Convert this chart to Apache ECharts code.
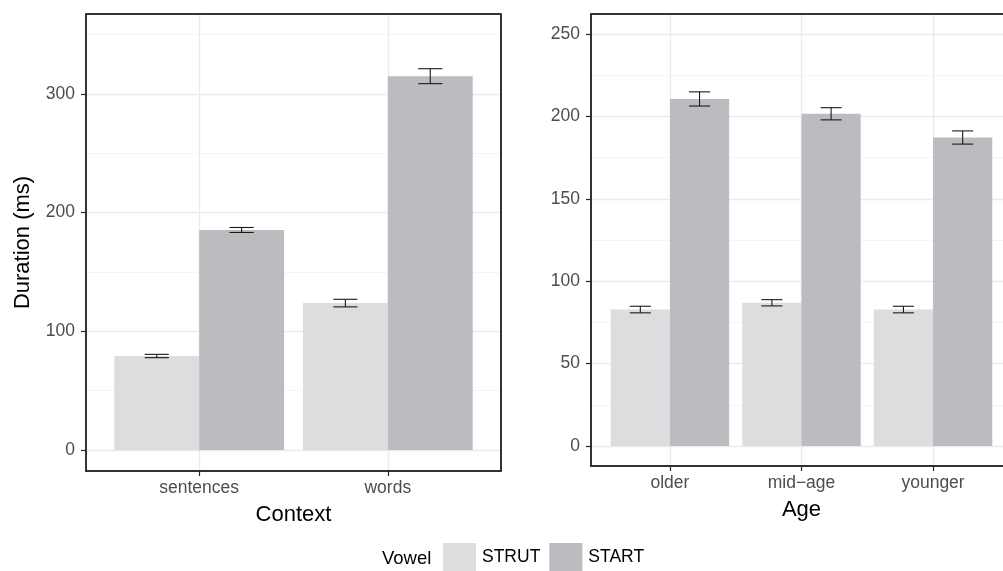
<!DOCTYPE html>
<html>
<head>
<meta charset="utf-8">
<script src="https://cdn.jsdelivr.net/npm/echarts@6/dist/echarts.min.js"></script>
<style>
html,body{margin:0;padding:0;background:#fff;}
#c{width:1003px;height:571px;}
</style>
</head>
<body>
<div id="c"></div>
<script>
// ---- data ----
const contexts = ['sentences', 'words'];
const contextStrut = [79.2, 123.8];
const contextStrutSE = [1.4, 3.2];
const contextStart = [185.4, 315.0];
const contextStartSE = [2.1, 6.3];

const ages = ['older', 'mid\u2212age', 'younger'];
const ageStrut = [82.8, 86.9, 82.8];
const ageStrutSE = [2.0, 1.9, 2.0];
const ageStart = [210.6, 201.6, 187.2];
const ageStartSE = [4.3, 3.7, 4.0];

const leftYTicks = [0, 100, 200, 300];
const leftYMinor = [50, 150, 250, 350];
const rightYTicks = [0, 50, 100, 150, 200, 250];
const rightYMinor = [25, 75, 125, 175, 225];

const vowels = ['STRUT', 'START'];

// ---- styles ----
const FONT = 'Liberation Sans, Arial, Helvetica, sans-serif';
const COL = {STRUT: '#dcdddf', START: '#bbbcbf'};
const HALF = 0.225; // half bar width (dodged, total 0.9)
const AXC = '#262626';

const chart = echarts.init(document.getElementById('c'), null, {renderer: 'canvas'});

function barSeries(name, vals, offset, xi, yi) {
  return {
    type: 'custom', name: name, xAxisIndex: xi, yAxisIndex: yi,
    itemStyle: {color: COL[name]},
    data: vals.map((v, i) => [i, v]),
    renderItem: function (params, api) {
      const x = api.value(0) + offset;
      const a = api.coord([x - HALF, api.value(1)]);
      const b = api.coord([x + HALF, 0]);
      return {type: 'rect', shape: {x: a[0], y: a[1], width: b[0] - a[0], height: b[1] - a[1]},
              style: {fill: COL[name]}};
    },
    z: 3
  };
}
function errSeries(name, vals, ses, offset, cap, xi, yi) {
  return {
    type: 'custom', name: name + ' se', xAxisIndex: xi, yAxisIndex: yi,
    data: vals.map((v, i) => [i, v, ses[i]]),
    renderItem: function (params, api) {
      const x = api.value(0) + offset;
      const v = api.value(1), s = api.value(2);
      const top = api.coord([x, v + s]);
      const bot = api.coord([x, v - s]);
      const l = api.coord([x - cap, v])[0];
      const r = api.coord([x + cap, v])[0];
      const st = {stroke: '#1a1a1a', lineWidth: 1.1};
      return {type: 'group', children: [
        {type: 'line', shape: {x1: top[0], y1: top[1], x2: bot[0], y2: bot[1]}, style: st},
        {type: 'line', shape: {x1: l, y1: top[1], x2: r, y2: top[1]}, style: st},
        {type: 'line', shape: {x1: l, y1: bot[1], x2: r, y2: bot[1]}, style: st}
      ]};
    },
    z: 4
  };
}

function xAxis(gi, cats) {
  const idx = cats.map((c, i) => i);
  return {
    type: 'value', gridIndex: gi, min: -0.6, max: cats.length - 0.4, position: 'bottom',
    axisLine: {show: true, onZero: false, lineStyle: {color: AXC, width: 1.5}},
    axisTick: {show: true, length: 5, customValues: idx, lineStyle: {color: AXC, width: 1.2}},
    axisLabel: {customValues: idx, formatter: v => cats[Math.round(v)], color: '#4d4d4d',
                fontSize: 17.5, fontFamily: FONT, margin: 8},
    splitLine: {show: true, lineStyle: {color: '#ebebeb', width: 1.4}},
    name: gi === 0 ? 'Context' : 'Age', nameLocation: 'middle', nameGap: 33,
    nameTextStyle: {fontSize: 22, fontFamily: FONT, color: '#000'},
    z: 2
  };
}
function yAxisMajor(gi, ticks, mn, mx, title) {
  return {
    type: 'value', gridIndex: gi, min: mn, max: mx, position: 'left',
    axisLine: {show: true, onZero: false, lineStyle: {color: AXC, width: 1.5}},
    axisTick: {show: true, length: 5, customValues: ticks, lineStyle: {color: AXC, width: 1.2}},
    axisLabel: {customValues: ticks, color: '#4d4d4d', fontSize: 17.5, fontFamily: FONT, margin: 11},
    splitLine: {show: true, lineStyle: {color: '#ebebeb', width: 1.4}},
    name: title, nameLocation: 'middle', nameGap: 52,
    nameTextStyle: {fontSize: 22, fontFamily: FONT, color: '#000'},
    z: 2
  };
}
function yAxisMinor(gi, ticks, mn, mx) {
  return {
    type: 'value', gridIndex: gi, min: mn, max: mx, position: 'left',
    axisLine: {show: false, onZero: false},
    axisTick: {show: false, customValues: ticks},
    axisLabel: {show: false, customValues: ticks},
    splitLine: {show: true, lineStyle: {color: '#f4f4f4', width: 0.9}},
    z: 0
  };
}

const option = {
  backgroundColor: '#ffffff',
  animation: false,
  textStyle: {fontFamily: FONT},
  grid: [
    {left: 86, top: 14, width: 415, height: 457, show: true, borderColor: AXC, borderWidth: 1.5,
     backgroundColor: 'transparent', outerBoundsMode: 'none', containLabel: false, z: 5},
    {left: 591, top: 14, width: 421, height: 452, show: true, borderColor: AXC, borderWidth: 1.5,
     backgroundColor: 'transparent', outerBoundsMode: 'none', containLabel: false, z: 5}
  ],
  xAxis: [xAxis(0, contexts), xAxis(1, ages)],
  yAxis: [
    yAxisMajor(0, leftYTicks, -17.7, 367.4, 'Duration (ms)'),
    yAxisMinor(0, leftYMinor, -17.7, 367.4),
    yAxisMajor(1, rightYTicks, -12.15, 262.15, ''),
    yAxisMinor(1, rightYMinor, -12.15, 262.15)
  ],
  legend: {
    left: 443, top: 543, padding: 0, itemGap: 9, itemWidth: 33, itemHeight: 28,
    data: vowels.map(v => ({name: v, icon: 'rect', itemStyle: {color: COL[v]}})),
    textStyle: {fontSize: 17.5, fontFamily: FONT, color: '#000', padding: [0, 0, 0, 1]},
    selectedMode: false
  },
  graphic: [
    {type: 'text', left: 382, top: 549, style: {text: 'Vowel', font: '18.5px ' + FONT, fill: '#000'}},
    {type: 'line', shape: {x1: 86, y1: 14, x2: 501, y2: 14}, style: {stroke: AXC, lineWidth: 1.5}, z: 10},
    {type: 'line', shape: {x1: 501, y1: 14, x2: 501, y2: 471}, style: {stroke: AXC, lineWidth: 1.5}, z: 10},
    {type: 'line', shape: {x1: 591, y1: 14, x2: 1003, y2: 14}, style: {stroke: AXC, lineWidth: 1.5}, z: 10}
  ],
  series: [
    barSeries('STRUT', contextStrut, -HALF, 0, 0),
    barSeries('START', contextStart, HALF, 0, 0),
    errSeries('STRUT', contextStrut, contextStrutSE, -HALF, 0.064, 0, 0),
    errSeries('START', contextStart, contextStartSE, HALF, 0.064, 0, 0),
    barSeries('STRUT', ageStrut, -HALF, 1, 2),
    barSeries('START', ageStart, HALF, 1, 2),
    errSeries('STRUT', ageStrut, ageStrutSE, -HALF, 0.08, 1, 2),
    errSeries('START', ageStart, ageStartSE, HALF, 0.08, 1, 2)
  ]
};
chart.setOption(option);
</script>
</body>
</html>
